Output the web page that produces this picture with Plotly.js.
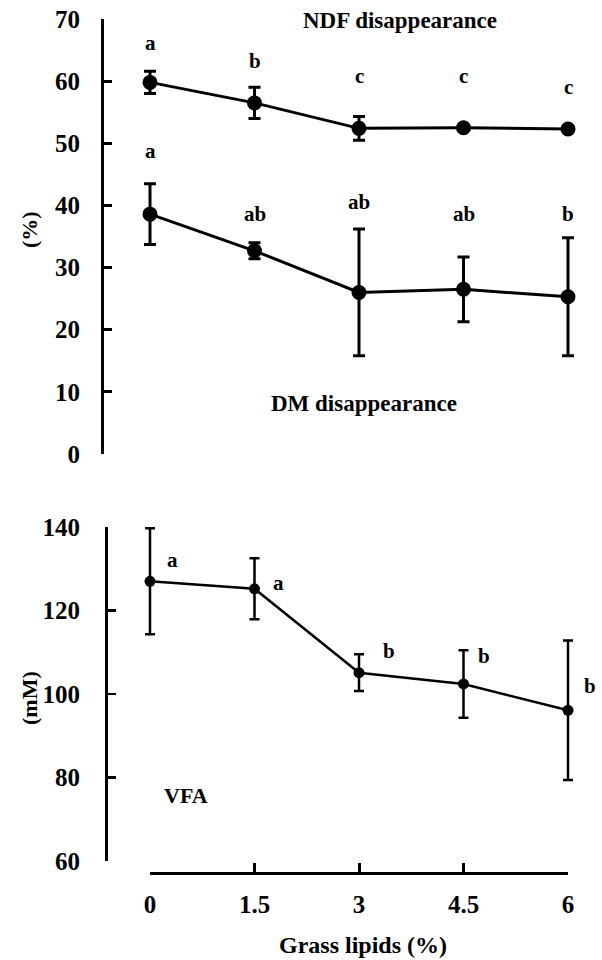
<!DOCTYPE html>
<html>
<head>
<meta charset="utf-8">
<script src="https://cdn.plot.ly/plotly-3.0.1.min.js"></script>
<style>html,body{margin:0;padding:0;background:#fff;}#chart{width:602px;height:960px;}</style>
</head>
<body>
<div id="chart"></div>
<script>
// ---- data ----
var lipids = [0, 1.5, 3, 4.5, 6];
var tickLabels = ['0', '1.5', '3', '4.5', '6'];

var ndf = [59.8, 56.5, 52.4, 52.5, 52.3];
var ndfErr = [1.8, 2.5, 1.9, 0.3, 0.3];
var ndfLetters = ['a', 'b', 'c', 'c', 'c'];
var ndfLetterY = [66.2, 63.3, 60.9, 60.9, 59.0];

var dm = [38.6, 32.7, 26.0, 26.5, 25.3];
var dmErr = [4.9, 1.3, 10.2, 5.2, 9.5];
var dmLetters = ['a', 'ab', 'ab', 'ab', 'b'];
var dmLetterY = [48.7, 38.7, 40.5, 38.7, 38.7];

var vfa = [127.0, 125.2, 105.1, 102.4, 96.1];
var vfaErr = [12.7, 7.3, 4.4, 8.1, 16.7];
var vfaLetters = ['a', 'a', 'b', 'b', 'b'];
var vfaLetterY = [132.2, 126.7, 110.2, 109.0, 101.9];
var vfaLetterShift = [22, 24, 30, 20, 22];

// ---- style ----
var FONT = 'Liberation Serif, Times New Roman, serif';
var W = 602, H = 960;
function px(x) { return x / W; }
function py(y) { return 1 - y / H; }
// data area: x=0 at 150px, x=6 at 568px; padded range so end caps are not clipped
var X0 = 150, X1 = 568, PAD = 0.3;
var unit = (X1 - X0) / 6;
var padDomain = [px(X0 - PAD * unit), px(X1 + PAD * unit)];
var padRange = [-PAD, 6 + PAD];

var traces = [
  {
    x: lipids, y: ndf, xaxis: 'x', yaxis: 'y', mode: 'lines+markers', cliponaxis: false,
    line: {color: '#000', width: 3}, marker: {color: '#000', size: 15},
    error_y: {type: 'data', array: ndfErr, visible: true, color: '#000', thickness: 3, width: 6}
  },
  {
    x: lipids, y: dm, xaxis: 'x', yaxis: 'y', mode: 'lines+markers', cliponaxis: false,
    line: {color: '#000', width: 3}, marker: {color: '#000', size: 15},
    error_y: {type: 'data', array: dmErr, visible: true, color: '#000', thickness: 3, width: 6}
  },
  {
    x: lipids, y: vfa, xaxis: 'x2', yaxis: 'y2', mode: 'lines+markers', cliponaxis: false,
    line: {color: '#000', width: 2.5}, marker: {color: '#000', size: 11},
    error_y: {type: 'data', array: vfaErr, visible: true, color: '#000', thickness: 2.5, width: 5}
  },
  {
    // carrier for the visible bottom x axis (no visible marks)
    x: lipids, y: vfa, xaxis: 'x3', yaxis: 'y2', mode: 'markers',
    marker: {opacity: 0, size: 1}, hoverinfo: 'skip'
  }
];

var annotations = [];
function letter(xref, yref, x, y, t, xs) {
  annotations.push({xref: xref, yref: yref, x: x, y: y, text: t, showarrow: false,
    xshift: xs || 0, font: {family: FONT, size: 21, color: '#000', weight: 'bold'}});
}
for (var i = 0; i < lipids.length; i++) {
  letter('x', 'y', lipids[i], ndfLetterY[i], ndfLetters[i], 0);
  letter('x', 'y', lipids[i], dmLetterY[i], dmLetters[i], 0);
  letter('x2', 'y2', lipids[i], vfaLetterY[i], vfaLetters[i], vfaLetterShift[i]);
}
function label(x, y, t, size, angle) {
  annotations.push({xref: 'paper', yref: 'paper', x: px(x), y: py(y), text: t, showarrow: false,
    textangle: angle || 0, xanchor: 'center', yanchor: 'middle',
    font: {family: FONT, size: size, color: '#000', weight: 'bold'}});
}
label(400, 20, 'NDF disappearance', 23);
label(364, 403, 'DM disappearance', 23);
label(186, 795, 'VFA', 22);
label(29, 230, '(%)', 22, -90);
label(29, 698, '(mM)', 22, -90);
label(363, 945, 'Grass lipids (%)', 24);

var tickfont = {family: FONT, size: 25, color: '#000', weight: 'bold'};
var layout = {
  width: W, height: H,
  margin: {l: 0, r: 0, t: 0, b: 0},
  paper_bgcolor: '#fff', plot_bgcolor: 'rgba(0,0,0,0)',
  showlegend: false,
  xaxis: {domain: padDomain, range: padRange, visible: false, anchor: 'y'},
  yaxis: {domain: [py(454), py(19)], range: [0, 70], anchor: 'free', position: px(102),
    showline: true, linecolor: '#000', linewidth: 3, showgrid: false, zeroline: false,
    ticks: 'inside', ticklen: 8, tickwidth: 3, tickcolor: '#000', dtick: 10,
    tickfont: tickfont, ticklabelstandoff: 16},
  xaxis2: {domain: padDomain, range: padRange, visible: false, anchor: 'y2'},
  xaxis3: {domain: [px(X0), px(X1)], range: [0, 6], anchor: 'free', position: py(873),
    showline: true, linecolor: '#000', linewidth: 3, showgrid: false, zeroline: false,
    ticks: 'inside', ticklen: 9, tickwidth: 3, tickcolor: '#000',
    tickvals: lipids, ticktext: tickLabels, tickfont: tickfont, ticklabelstandoff: 8},
  yaxis2: {domain: [py(861), py(527)], range: [60, 140], anchor: 'free', position: px(106),
    showline: true, linecolor: '#000', linewidth: 2.5, showgrid: false, zeroline: false,
    ticks: 'inside', ticklen: 8, tickwidth: 2.5, tickcolor: '#000', dtick: 20,
    tickfont: tickfont, ticklabelstandoff: 20},
  annotations: annotations
};

Plotly.newPlot('chart', traces, layout, {staticPlot: true, displayModeBar: false});
</script>
</body>
</html>
